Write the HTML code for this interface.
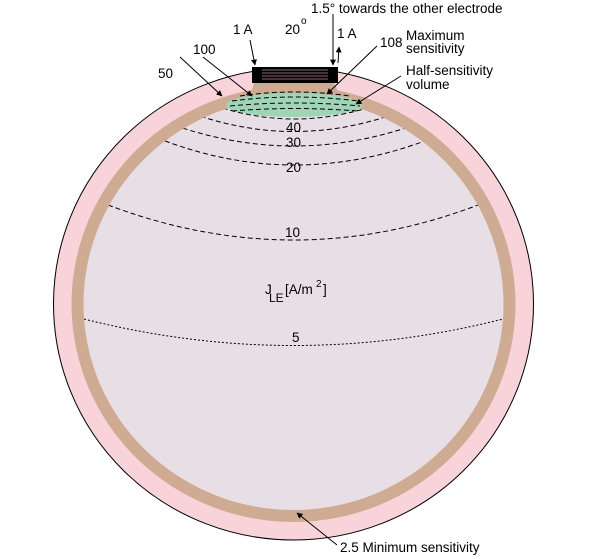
<!DOCTYPE html>
<html><head><meta charset="utf-8"><style>
html,body{margin:0;padding:0;background:#fff;}
svg{display:block;font-family:"Liberation Sans",Arial,sans-serif;}
</style></head><body>
<svg width="600" height="559" viewBox="0 0 600 559" xmlns="http://www.w3.org/2000/svg">
<defs>
<marker id="ah" viewBox="0 0 10 10" refX="9" refY="5" markerWidth="6" markerHeight="6" orient="auto"><path d="M0,0L10,5L0,10z" fill="#000"/></marker>
<clipPath id="brain"><ellipse cx="293.5" cy="304" rx="210" ry="206"/></clipPath>
</defs>
<ellipse cx="293.5" cy="304" rx="240" ry="236" fill="#f9d3da" stroke="#000" stroke-width="1"/>
<ellipse cx="293.5" cy="304" rx="222" ry="218" fill="#cfab93"/>
<ellipse cx="293.5" cy="304" rx="210" ry="206" fill="#e8dfe6"/>
<path d="M254,83 L334,83 L340,96 L250,96 Z" fill="#cfab93"/>
<ellipse cx="294" cy="105" rx="68" ry="12" fill="#9fd4b7"/>
<g fill="none" stroke="#000" stroke-width="1" stroke-dasharray="5,3">
<path d="M240,96 Q294,88 350,96"/>
<path d="M232,101 Q294,93 358,101"/>
<path d="M230,106 Q294,100 360,106"/>
<path d="M232,111 Q294,106 358,111"/>
</g>
<g clip-path="url(#brain)" fill="none" stroke="#000" stroke-width="1" stroke-dasharray="5,3">
<path d="M200,100 Q294,138 390,100"/>
<path d="M178,108 Q294,155 410,108"/>
<path d="M160,120 Q294,172 428,120"/>
<path d="M150,135 Q294,195 440,135"/>
<path d="M108,205 Q294,275 478,205"/>
<path d="M84,319 Q294,372 503,319" stroke-dasharray="2,2"/>
</g>
<rect x="252" y="67" width="86" height="16" fill="#000"/>
<g stroke="#b88a90" stroke-width="0.8">
<line x1="262" y1="70" x2="328" y2="70"/><line x1="262" y1="73" x2="328" y2="73"/>
<line x1="262" y1="76" x2="328" y2="76"/><line x1="262" y1="79" x2="328" y2="79"/>
</g>
<g font-size="13.5" fill="#000">
<text x="311" y="13">1.5° towards the other electrode</text>
<text x="233" y="34">1 A</text>
<text x="285" y="34">20</text><text x="301" y="24" font-size="10">o</text>
<text x="337" y="38">1 A</text>
<text x="380" y="47">108</text>
<text x="406" y="40">Maximum</text>
<text x="406" y="53">sensitivity</text>
<text x="406" y="75">Half-sensitivity</text>
<text x="406" y="89">volume</text>
<text x="193" y="54">100</text>
<text x="158" y="78">50</text>
<text x="286" y="132">40</text>
<text x="286" y="147">30</text>
<text x="286" y="172">20</text>
<text x="285" y="237">10</text>
<text x="292" y="342">5</text>
<text x="265" y="294">J</text><text x="269" y="302" font-size="12">LE</text>
<text x="285" y="294">[A/m</text><text x="316" y="287" font-size="10">2</text><text x="323" y="294">]</text>
<text x="340" y="552">2.5 Minimum sensitivity</text>
</g>
<g stroke="#000" stroke-width="1" fill="none" marker-end="url(#ah)">
<line x1="250" y1="40" x2="255" y2="65"/>
<line x1="333" y1="14" x2="333" y2="65"/>
<line x1="180" y1="57" x2="222" y2="96" />
<line x1="203" y1="57" x2="252" y2="96"/>
<line x1="377" y1="46" x2="327" y2="94"/>
<line x1="401" y1="76" x2="356" y2="104"/>
<line x1="337" y1="545" x2="297" y2="513"/>
<line x1="338" y1="63" x2="339" y2="47"/>
</g>
</svg>
</body></html>
